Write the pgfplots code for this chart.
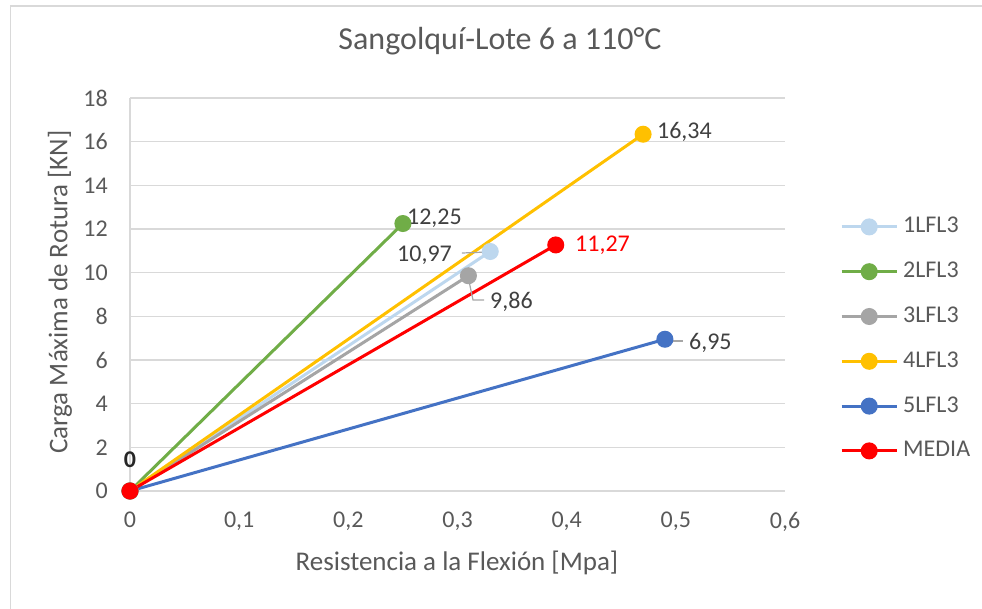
\documentclass[border=0pt]{standalone}
\usepackage{fontspec}
\setmainfont{Carlito}
\usepackage{pgfplots}
\pgfplotsset{compat=1.18}
\definecolor{cA}{HTML}{BDD7EE}
\definecolor{cB}{HTML}{70AD47}
\definecolor{cC}{HTML}{A5A5A5}
\definecolor{cD}{HTML}{FFC000}
\definecolor{cE}{HTML}{4472C4}
\definecolor{cF}{HTML}{FF0000}
\definecolor{gridgray}{HTML}{D9D9D9}
\definecolor{txt}{HTML}{595959}
\definecolor{lbl}{HTML}{404040}
\definecolor{leader}{HTML}{A6A6A6}
\begin{document}
\begin{tikzpicture}[x=1pt,y=1pt]
\path[use as bounding box] (0,0) rectangle (982,609);
\draw[color=gridgray, line width=1.2pt] (10.5,0) -- (10.5,603) -- (982,603);
\begin{axis}[
  at={(130pt,118pt)}, anchor=south west,
  width=655pt, height=393pt, scale only axis,
  xmin=0, xmax=0.6, ymin=0, ymax=18,
  xtick={0,0.1,0.2,0.3,0.4,0.5,0.6},
  ytick={0,2,4,6,8,10,12,14,16,18},
  /pgf/number format/use comma,
  /pgf/number format/assume math mode=true,
  major tick length=0pt,
  tick style={draw=none},
  ymajorgrids,
  grid style={color=gridgray, line width=1.3pt},
  axis x line*=bottom, axis y line*=left,
  axis line style={color=gridgray, line width=1.3pt, -},
  every tick label/.append style={font=\fontsize{24}{28}\selectfont, text=txt, inner sep=0pt},
  xticklabel style={anchor=north, yshift=-21pt},
  yticklabel style={anchor=east, xshift=-22pt},
  clip=false,
  title={Sangolquí-Lote 6 a 110°C},
  title style={at={(axis description cs:0.5649,1.130)}, anchor=center, font=\fontsize{32}{38}\selectfont, text=txt},
  xlabel={Resistencia a la Flexión [Mpa]},
  xlabel style={at={(axis description cs:0.4992,-0.183)}, anchor=center, font=\fontsize{27}{32}\selectfont, text=txt},
  ylabel={Carga Máxima de Rotura [KN]},
  ylabel style={at={(axis description cs:-0.1069,0.506)}, anchor=center, rotate=0, font=\fontsize{27}{32}\selectfont, text=txt},
  legend image code/.code={\draw[mark repeat=2,mark phase=2,#1] plot coordinates {(0pt,0pt) (27.5pt,0pt) (55pt,0pt)};},
  legend style={at={(axis description cs:1.084,0.387)}, anchor=west, draw=none, fill=none,
    font=\fontsize{24}{28}\selectfont, text=txt, inner sep=0pt, row sep=22.8pt, column sep=5pt,
    nodes={inner sep=0pt, text height=17pt, text depth=5pt}},
  legend cell align=left,
  every axis plot/.append style={line width=3pt, mark=*, mark size=7pt, mark options={line width=1pt, solid}},
]
\addplot[color=cA, mark options={fill=cA}] coordinates {(0,0) (0.33,10.97)};
\addlegendentry{1LFL3}
\addplot[color=cB, mark options={fill=cB}] coordinates {(0,0) (0.25,12.25)};
\addlegendentry{2LFL3}
\addplot[color=cC, mark options={fill=cC}] coordinates {(0,0) (0.31,9.86)};
\addlegendentry{3LFL3}
\addplot[color=cD, mark options={fill=cD}] coordinates {(0,0) (0.47,16.34)};
\addlegendentry{4LFL3}
\addplot[color=cE, mark options={fill=cE}] coordinates {(0,0) (0.49,6.95)};
\addlegendentry{5LFL3}
\addplot[color=cF, mark options={fill=cF}] coordinates {(0,0) (0.39,11.27)};
\addlegendentry{MEDIA}
% leader lines
\draw[leader, line width=1.2pt] (axis cs:0.3041,10.90) -- (axis cs:0.3298,10.95);
\draw[leader, line width=1.2pt] (axis cs:0.3105,9.62) -- (axis cs:0.3142,8.75) -- (axis cs:0.3243,8.75);
\draw[leader, line width=1.2pt] (axis cs:0.4928,6.87) -- (axis cs:0.5066,6.87);
% data labels
\begin{scope}[every node/.style={font=\fontsize{24}{28}\selectfont, text=lbl, inner sep=0pt}]
\node[anchor=west] at (axis cs:0.2537,12.50) {12,25};
\node[anchor=east] at (axis cs:0.2950,10.81) {10,97};
\node[anchor=west] at (axis cs:0.3298,8.66) {9,86};
\node[anchor=west] at (axis cs:0.4827,16.44) {16,34};
\node[anchor=west, text=cF] at (axis cs:0.4076,11.27) {11,27};
\node[anchor=west] at (axis cs:0.512,6.78) {6,95};
\node[anchor=center, text=black!85] at (axis cs:0,1.42) {\bfseries 0};
\end{scope}
\end{axis}
\end{tikzpicture}
\end{document}
